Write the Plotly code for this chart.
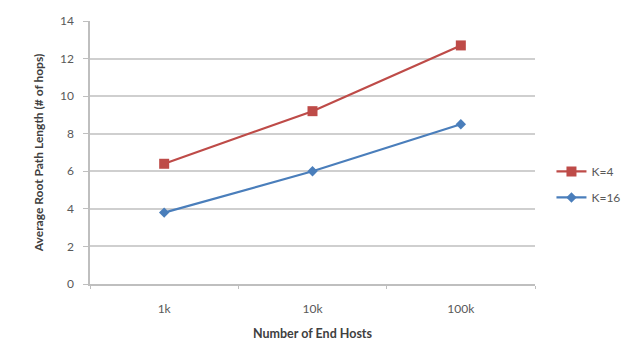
import plotly.graph_objects as go

categories = ["1k", "10k", "100k"]
k4_values = [6.4, 9.2, 12.7]
k16_values = [3.8, 6.0, 8.5]
series_names = ["K=4", "K=16"]
y_ticks = [0, 2, 4, 6, 8, 10, 12, 14]

FONT = "Lato, 'Open Sans', sans-serif"

fig = go.Figure()
fig.add_trace(go.Scatter(
    x=categories, y=k4_values, name=series_names[0], mode="lines+markers",
    legendgroup="a",
    line=dict(color="#BE4B48", width=2.2),
    marker=dict(symbol="square", size=10, color="#BE4B48"),
))
fig.add_trace(go.Scatter(
    x=categories, y=k16_values, name=series_names[1], mode="lines+markers",
    legendgroup="b",
    line=dict(color="#4A7EBB", width=2.2),
    marker=dict(symbol="diamond", size=8, color="#4A7EBB"),
))

fig.update_layout(
    width=631, height=343,
    margin=dict(l=90, r=96, t=21, b=59, autoexpand=False),
    paper_bgcolor="white", plot_bgcolor="white",
    font=dict(family=FONT, size=12, color="#595959"),
    showlegend=True,
    legend=dict(x=1.037, y=0.483, xanchor="left", yanchor="top",
                font=dict(size=12, color="#595959"),
                bgcolor="rgba(0,0,0,0)", tracegroupgap=7,
                itemwidth=30),
    xaxis=dict(
        type="category", showgrid=False, showline=True,
        linecolor="#bfbfbf", linewidth=1.5,
        ticks="outside", tickson="boundaries", ticklen=3, tickcolor="#bfbfbf",
        tickfont=dict(size=12, color="#595959"),
        ticklabelstandoff=13,
        title=dict(text="<b>Number of End Hosts</b>", font=dict(size=12.5, color="#404040"), standoff=14),
        range=[-0.5, 2.5], fixedrange=True, automargin=False,
    ),
    yaxis=dict(
        range=[0, 14], tickvals=y_ticks, showgrid=True, gridcolor="#cfcfcf", gridwidth=1.5,
        showline=True, linecolor="#bfbfbf", linewidth=1.5,
        ticks="outside", ticklen=5, tickcolor="#bfbfbf",
        tickfont=dict(size=12, color="#595959"),
        ticklabelstandoff=7,
        zeroline=False, automargin=False,
        title=dict(text="<b>Average Root Path Length (# of hops)</b>", font=dict(size=12, color="#404040"), standoff=14),
    ),
)

fig.write_html("out.html")
